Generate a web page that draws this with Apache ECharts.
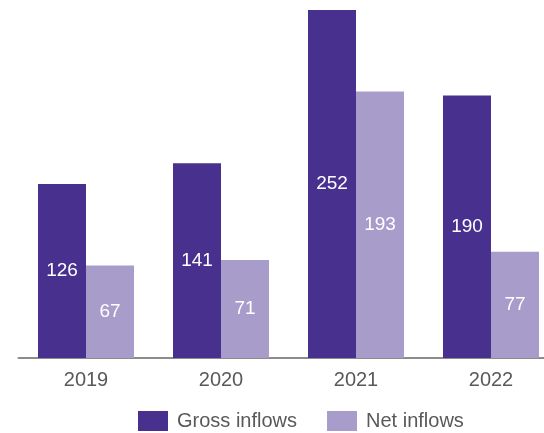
<!DOCTYPE html>
<html><head><meta charset="utf-8">
<script src="https://cdn.jsdelivr.net/npm/echarts@6/dist/echarts.min.js"></script>
<style>html,body{margin:0;padding:0;background:#fff}#c{width:544px;height:433px}</style>
</head><body><div id="c"></div>
<script>
var categories = ['2019', '2020', '2021', '2022'];
var grossInflows = [126, 141, 252, 190];
var netInflows = [67, 71, 193, 77];
var seriesNames = ['Gross inflows', 'Net inflows'];

var chart = echarts.init(document.getElementById('c'));
var font = "'Liberation Sans', Arial, sans-serif";
var lbl = {show: true, position: 'inside', color: '#fff', fontSize: 19, fontFamily: font};
chart.setOption({
  animation: false,
  grid: {left: 18.5, width: 540, top: 10, bottom: 75, outerBoundsMode: 'none', containLabel: false},
  legend: {
    left: 133, top: 406, itemWidth: 30, itemHeight: 20, itemGap: 30, icon: 'rect',
    textStyle: {color: '#595959', fontSize: 20, fontFamily: font, padding: [0, 0, 0, 4]},
    data: seriesNames
  },
  xAxis: {
    type: 'category', data: categories,
    axisLine: {lineStyle: {color: '#8c8c8c', width: 2}},
    axisTick: {show: false},
    axisLabel: {color: '#595959', fontSize: 20, fontFamily: font, margin: 12}
  },
  yAxis: {type: 'value', min: 0, max: 252, show: false, splitLine: {show: false}},
  series: [
    {name: seriesNames[0], type: 'bar', data: grossInflows, barWidth: 48, barGap: '0%',
     itemStyle: {color: '#48308f'}, label: lbl},
    {name: seriesNames[1], type: 'bar', data: netInflows, barWidth: 48,
     itemStyle: {color: '#a89ccb'}, label: lbl}
  ]
});
</script></body></html>
